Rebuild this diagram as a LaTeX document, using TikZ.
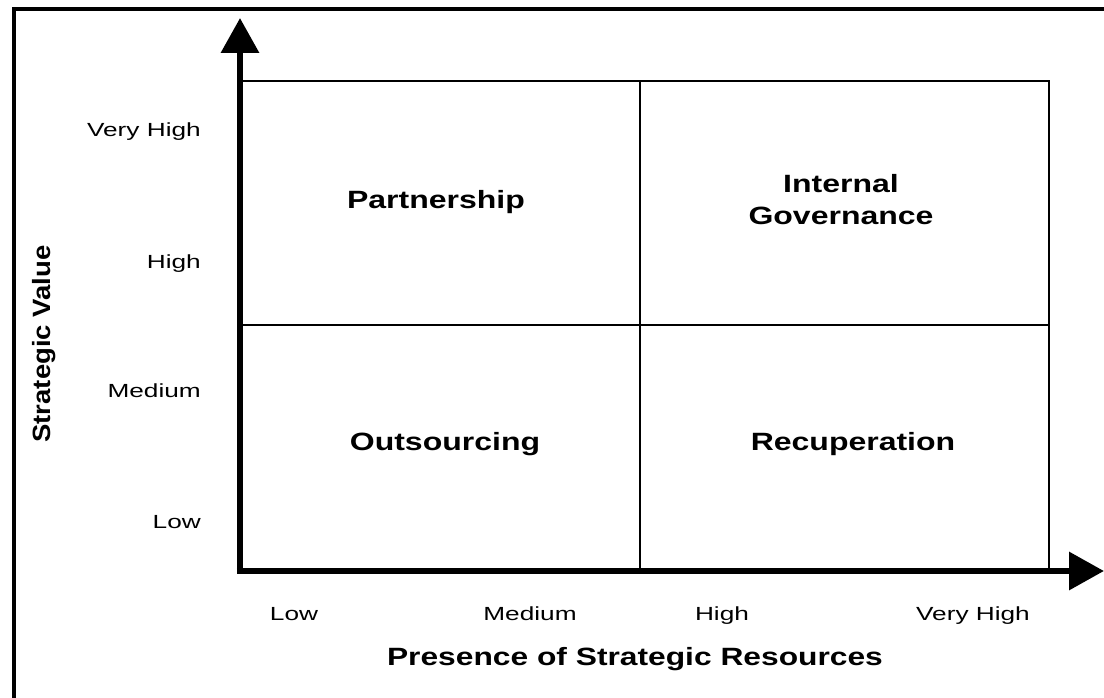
\documentclass[tikz,border=0pt]{standalone}
\usepackage{fontspec}
\setmainfont{Liberation Sans}
\usetikzlibrary{arrows.meta}
\newcommand\hstretch[2]{\scalebox{#1}[1]{#2}}
\tikzset{
  frame/.style={line width=4pt},
  axis/.style={line width=6.5pt,-{Triangle[length=35pt,width=37pt]}},
  grid/.style={line width=2pt},
  ticklbl/.style={inner sep=0pt,font=\fontsize{19}{22}\selectfont},
  quad/.style={inner sep=0pt,anchor=base,font=\bfseries\fontsize{25}{30}\selectfont},
}
\begin{document}
\begin{tikzpicture}[x=1pt,y=-1pt]
\useasboundingbox (0,0) rectangle (1104,698);
\fill[white] (0,0) rectangle (1104,698);
% outer frame (left and top edges)
\draw[frame] (14,698) -- (14,9) -- (1104,9);
% grid
\coordinate (o) at (240,570);
\coordinate (tr) at (1049,81);
\draw[grid] (240,81) -- (tr) -- (1049,570);
\draw[grid] (640,81) -- (640,570);
\draw[grid] (240,325) -- (1049,325);
% axes
\coordinate (ytip) at (240,18);
\coordinate (xtip) at (1104,571);
\draw[axis] (240,573.25) -- (ytip);
\draw[axis] (236.75,571) -- (xtip);
% y tick labels
\node[ticklbl,anchor=base east] (yvh) at (201,137) {\hstretch{1.38}{Very High}};
\node[ticklbl,anchor=base east] (yh) at (201,268) {\hstretch{1.38}{High}};
\node[ticklbl,anchor=base east] (ym) at (201,397) {\hstretch{1.38}{Medium}};
\node[ticklbl,anchor=base east] (yl) at (201,528) {\hstretch{1.38}{Low}};
% x tick labels
\node[ticklbl,anchor=base] (xl) at (294,620) {\hstretch{1.38}{Low}};
\node[ticklbl,anchor=base] (xm) at (530,620) {\hstretch{1.38}{Medium}};
\node[ticklbl,anchor=base] (xh) at (722,620) {\hstretch{1.38}{High}};
\node[ticklbl,anchor=base] (xvh) at (973,620) {\hstretch{1.38}{Very High}};
% axis titles
\node[quad] (xt) at (635,665) {\hstretch{1.27}{Presence of Strategic Resources}};
\node[quad,rotate=90] (yt) at (50,344) {\hstretch{1.1}{Strategic Value}};
% quadrant labels
\node[quad] (q1) at (436,208) {\hstretch{1.28}{Partnership}};
\node[quad] (q2a) at (841,193) {\hstretch{1.28}{Internal}};
\node[quad] (q2b) at (841,225) {\hstretch{1.28}{Governance}};
\node[quad] (q3) at (445,450) {\hstretch{1.28}{Outsourcing}};
\node[quad] (q4) at (853,450) {\hstretch{1.28}{Recuperation}};
\end{tikzpicture}
\end{document}
